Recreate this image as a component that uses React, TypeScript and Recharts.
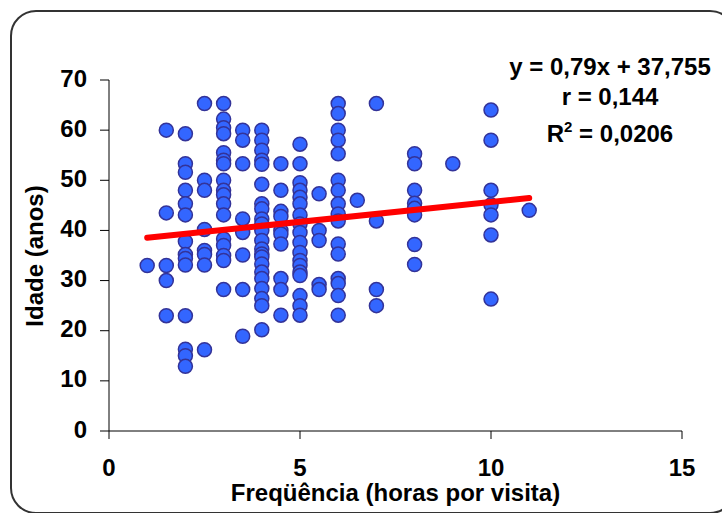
import { Scatter, ScatterChart, XAxis, YAxis } from "recharts";

const frequencias = [1, 1.5, 2, 2.5, 3, 3.5, 4, 4.5, 5, 5.5, 6, 6.5, 7, 8, 9, 10, 11];

const idades: number[][] = [
  [33],
  [60, 43.5, 33, 30, 23],
  [59.3, 53.3, 51.6, 48, 45.3, 43.1, 37.8, 35.2, 34.4, 33.1, 23, 16.3, 15, 12.9],
  [65.3, 50, 48, 40.2, 36, 35.2, 33.1, 16.2],
  [65.3, 62.2, 60.5, 59.3, 55.5, 54, 53.3, 50, 48, 47.1, 45.3, 43.1, 38.3, 37, 35, 34, 28.2],
  [60, 58, 53.3, 42.3, 39.6, 35.1, 28.2, 18.9],
  [60, 58, 56, 54, 53.2, 49.2, 45.3, 44.3, 42.3, 41.3, 40, 38, 36.3, 35.3, 34.7, 33.3, 31.7, 30.4, 28.4, 26.4, 25, 20.2],
  [53.3, 48, 43.8, 42.8, 40, 39.3, 37.3, 30.4, 28.2, 23.1],
  [57.2, 53.3, 49.5, 48, 46.6, 45.3, 43.1, 41.3, 39.6, 37.6, 35.6, 34, 33, 31.7, 31, 27, 25, 23.1],
  [47.3, 40, 38, 29.2, 28.2],
  [65.3, 63.3, 60, 58, 55.3, 50, 48, 45.3, 43.3, 41.9, 37.3, 35.3, 30.4, 29.4, 27, 23.1],
  [46],
  [65.3, 41.9, 28.2, 25],
  [55.3, 53.3, 48, 45.4, 44.4, 43.1, 37.2, 33.2],
  [53.3],
  [64, 58, 48, 45.1, 43.1, 39.1, 26.3],
  [44],
];

// reta de regressão y = 0,79x + 37,755 (extremos)
const retaX = [1, 11];
const retaY = [38.55, 46.45];

const xTicks = [0, 5, 10, 15];
const yTicks = [0, 10, 20, 30, 40, 50, 60, 70];

const equacao = ["y = 0,79x + 37,755", "r = 0,144", "0,0206"];

const FONT = '"Liberation Sans", Arial, sans-serif';

const pontos = frequencias.flatMap((f, i) => idades[i].map((y) => ({ x: f, y })));
const reta = retaX.map((x, i) => ({ x, y: retaY[i] }));

function Ponto(props: any) {
  return (
    <circle cx={props.cx} cy={props.cy} r={7} fill="#3366FF" stroke="#333399" strokeWidth={1.5} />
  );
}

function TickY(props: any) {
  return (
    <text x={props.x} y={props.y + 6.5} textAnchor="end" fontFamily={FONT} fontWeight="bold" fontSize={24} fill="#000">
      {props.payload.value}
    </text>
  );
}

function TickX(props: any) {
  return (
    <text x={props.x} y={476} textAnchor="middle" fontFamily={FONT} fontWeight="bold" fontSize={24} fill="#000">
      {props.payload.value}
    </text>
  );
}

export default function App() {
  return (
    <div style={{ position: "absolute", left: 0, top: 0, width: 722, height: 513, overflow: "hidden", background: "#fff" }}>
      <div
        style={{
          position: "absolute",
          left: 10,
          top: 10,
          width: 726,
          height: 504,
          border: "2px solid #333",
          borderRadius: 26,
          boxSizing: "border-box",
        }}
      />
      <div style={{ position: "absolute", left: 0, top: 0 }}>
        <ScatterChart width={722} height={513} margin={{ top: 80, right: 40, bottom: 0, left: 0 }}>
          <XAxis
            type="number"
            dataKey="x"
            domain={[0, 15]}
            ticks={xTicks}
            height={82}
            tickSize={8}
            tickMargin={0}
            tick={TickX}
            axisLine={{ stroke: "#000" }}
            tickLine={{ stroke: "#000" }}
          />
          <YAxis
            type="number"
            dataKey="y"
            domain={[0, 70]}
            ticks={yTicks}
            width={109}
            tickSize={9}
            tickMargin={13}
            tick={TickY}
            axisLine={{ stroke: "#000" }}
            tickLine={{ stroke: "#000" }}
          />
          <Scatter data={pontos} shape={Ponto} isAnimationActive={false} />
          <Scatter
            data={reta}
            line={{ stroke: "#FF0000", strokeWidth: 6, strokeLinecap: "round" }}
            shape={() => <g />}
            isAnimationActive={false}
          />
        </ScatterChart>
      </div>
      <svg width={722} height={513} style={{ position: "absolute", left: 0, top: 0, pointerEvents: "none" }}>
        <g fontFamily={FONT} fontWeight="bold" fontSize={24} fill="#000" textAnchor="middle">
          <text x={395.5} y={501}>Freqüência (horas por visita)</text>
          <text transform="translate(43, 256) rotate(-90)">Idade (anos)</text>
          <text x={610} y={75}>{equacao[0]}</text>
          <text x={610} y={105}>{equacao[1]}</text>
          <text x={610} y={141.7}>
            R<tspan dy={-10} fontSize={15}>2</tspan>
            <tspan dy={10}> = {equacao[2]}</tspan>
          </text>
        </g>
      </svg>
    </div>
  );
}
